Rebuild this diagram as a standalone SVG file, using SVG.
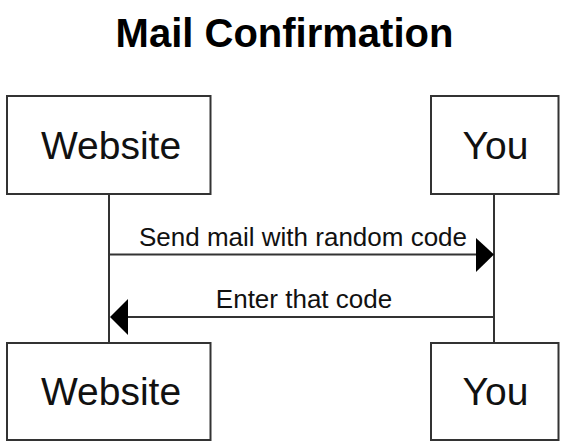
<svg xmlns="http://www.w3.org/2000/svg" width="566" height="444" viewBox="0 0 566 444">
<style>
.box{fill:#fff;stroke:#333;stroke-width:2}
.life{stroke:#333;stroke-width:2;fill:none}
.msg{stroke:#333;stroke-width:2;fill:none}
.head{fill:#000}
.name{font-family:"Liberation Sans",Arial,sans-serif;font-size:39px;fill:#111;text-anchor:middle}
.lbl{font-family:"Liberation Sans",Arial,sans-serif;font-size:26px;fill:#111;text-anchor:middle}
.title{font-family:"Liberation Sans",Arial,sans-serif;font-size:40px;font-weight:bold;fill:#000;text-anchor:middle}
</style>
<rect width="566" height="444" fill="#fff"/>
<text class="title" x="284.5" y="47">Mail Confirmation</text>
<g id="connectors">
<line class="life" x1="109" y1="194" x2="109" y2="343"/>
<line class="life" x1="494" y1="194" x2="494" y2="343"/>
<line class="msg" x1="109" y1="254.5" x2="478" y2="254.5"/>
<polygon class="head" points="476,238 494,254.5 476,272"/>
<text class="lbl" x="303" y="246">Send mail with random code</text>
<line class="msg" x1="494" y1="317" x2="125" y2="317"/>
<polygon class="head" points="128,299 110,317 128,335"/>
<text class="lbl" x="304" y="308">Enter that code</text>
</g>
<g id="website-top">
<rect class="box" x="7" y="96" width="203.5" height="98"/>
<text class="name" x="111" y="159">Website</text>
</g>
<g id="you-top">
<rect class="box" x="431" y="96" width="127.5" height="98"/>
<text class="name" x="495.5" y="159">You</text>
</g>
<g id="website-bottom">
<rect class="box" x="7" y="343" width="203.5" height="97"/>
<text class="name" x="111" y="405">Website</text>
</g>
<g id="you-bottom">
<rect class="box" x="431" y="343" width="127.5" height="97"/>
<text class="name" x="495.5" y="405">You</text>
</g>
</svg>
